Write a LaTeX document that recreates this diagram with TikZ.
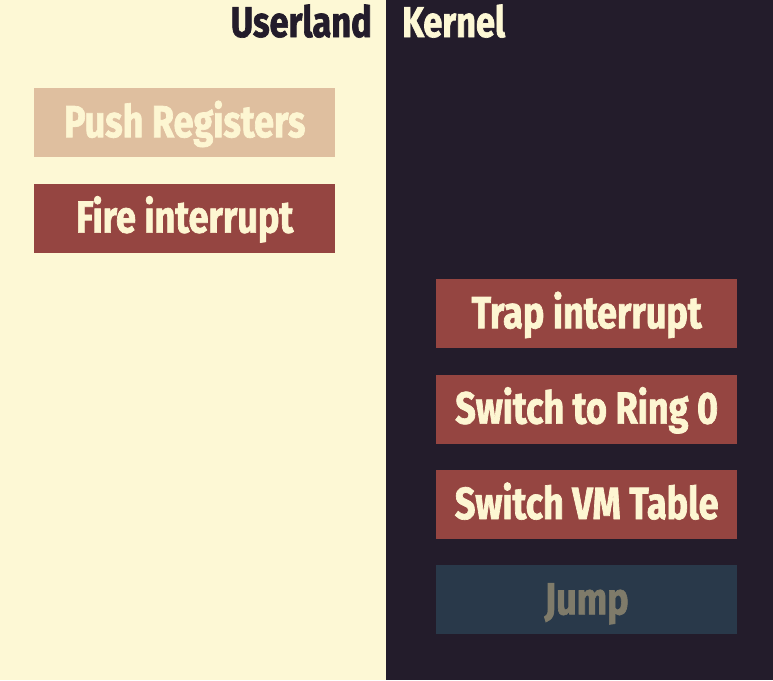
\documentclass[tikz,border=0pt]{standalone}
\usepackage{fontspec}
\setmainfont{Fira Sans}[BoldFont={Fira Sans Bold}, BoldFeatures={FakeStretch=0.8, FakeBold=1.5}]
\usepackage{tikz}
\usetikzlibrary{positioning}
\definecolor{userbg}{HTML}{FDF8D5}
\definecolor{kernbg}{HTML}{231C2B}
\definecolor{stepred}{HTML}{954541}
\definecolor{steptan}{HTML}{DFBF9F}
\definecolor{stepblue}{HTML}{29394A}
\definecolor{cream}{HTML}{FDF6D2}
\definecolor{dimtext}{HTML}{7F7B6A}
\tikzset{stepbox/.style = {fill = stepred, text = cream, minimum width = 301pt,
                           minimum height = 69pt, inner sep = 0,
                           text height = 29pt, text depth = 0pt,
                           font = \fontsize{45}{47}\selectfont\bfseries}}
\tikzset{header/.style = {inner sep = 0, font = \fontsize{43}{45}\selectfont\bfseries}}

\begin{document}
\begin{tikzpicture}[x = 1pt, y = -1pt]
        \useasboundingbox (0, 0) rectangle (773, 680);
        \fill [userbg] (0, 0) rectangle (386, 680);
        \fill [kernbg] (386, 0) rectangle (773, 680);

        \node [header, text = kernbg, anchor = base east] (userland) at (372, 37) {Userland};
        \node [header, text = userbg, anchor = base west] (kernel) at (402, 37) {Kernel};

        \node [stepbox, fill = steptan, anchor = north west] (push) at (34, 88) {Push Registers};
        \node [stepbox, below = 26pt of push] (fire) {Fire interrupt};

        \node [stepbox, anchor = north west] (trap) at (436, 279) {Trap interrupt};
        \node [stepbox, below = 26pt of trap] (ring) {Switch to Ring 0};
        \node [stepbox, below = 26pt of ring] (vmtable) {Switch VM Table};
        \node [stepbox, fill = stepblue, text = dimtext, below = 26pt of vmtable] (jump) {Jump};
      \end{tikzpicture}
\end{document}
